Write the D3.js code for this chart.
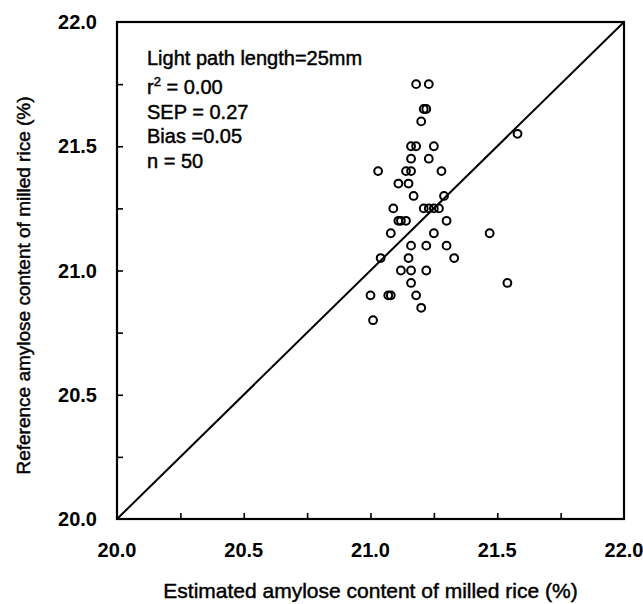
<!DOCTYPE html>
<html>
<head>
<meta charset="utf-8">
<script src="https://cdn.jsdelivr.net/npm/d3@7"></script>
<style>
    body { margin: 0; background: #fff; }
    svg text { font-family: "Liberation Sans", Arial, Helvetica, sans-serif; fill: #000; }
    /* the scan makes regular text look a little heavier */
    svg text.heavy { stroke: #000; stroke-width: 0.45px; }
</style>
</head>
<body>
<svg id="chart"></svg>
<script>
// estimated vs reference amylose (%)
const estimated = [
    21.18, 21.23, 21.21, 21.22, 21.20, 21.58, 21.16, 21.18, 21.25, 21.16,
    21.23, 21.03, 21.14, 21.16, 21.28, 21.11, 21.15, 21.17, 21.29, 21.09,
    21.21, 21.23, 21.25, 21.27, 21.11, 21.12, 21.14, 21.30, 21.08, 21.25,
    21.47, 21.16, 21.22, 21.30, 21.04, 21.15, 21.33, 21.12, 21.16, 21.22,
    21.16, 21.54, 21.00, 21.07, 21.08, 21.18, 21.20, 21.01
];
const reference = [
    21.75, 21.75, 21.65, 21.65, 21.60, 21.55, 21.50, 21.50, 21.50, 21.45,
    21.45, 21.40, 21.40, 21.40, 21.40, 21.35, 21.35, 21.30, 21.30, 21.25,
    21.25, 21.25, 21.25, 21.25, 21.20, 21.20, 21.20, 21.20, 21.15, 21.15,
    21.15, 21.10, 21.10, 21.10, 21.05, 21.05, 21.05, 21.00, 21.00, 21.00,
    20.95, 20.95, 20.90, 20.90, 20.90, 20.90, 20.85, 20.80
];
const domain = [20.0, 22.0];
const majorTicks = [20.0, 20.5, 21.0, 21.5, 22.0];
const minorTicks = [20.25, 20.5, 20.75, 21.0, 21.25, 21.5, 21.75];
const statLines = ["Light path length=25mm", "r|2| = 0.00", "SEP = 0.27", "Bias =0.05", "n = 50"];

const width = 643, height = 604;
const margin = { top: 22, right: 19, bottom: 85, left: 117 };

const svg = d3.select("#chart")
    .attr("width", width)
    .attr("height", height);

const x = d3.scaleLinear().domain(domain).range([margin.left, width - margin.right]);
const y = d3.scaleLinear().domain(domain).range([height - margin.bottom, margin.top]);

// inward ticks on bottom and left only
svg.append("g")
    .attr("transform", `translate(0,${y(20)})`)
    .call(d3.axisBottom(x).tickValues(minorTicks).tickSize(-6).tickFormat(""))
    .call(g => g.select(".domain").remove())
    .selectAll("line").attr("stroke", "#000").attr("stroke-width", 1.6);

svg.append("g")
    .attr("transform", `translate(${x(20)},0)`)
    .call(d3.axisLeft(y).tickValues(minorTicks).tickSize(-6).tickFormat(""))
    .call(g => g.select(".domain").remove())
    .selectAll("line").attr("stroke", "#000").attr("stroke-width", 1.6);

// tick labels
svg.append("g").selectAll("text")
    .data(majorTicks)
    .join("text")
    .attr("x", d => x(d))
    .attr("y", y(20) + 38)
    .attr("text-anchor", "middle")
    .attr("font-size", 20)
    .attr("font-weight", "bold")
    .text(d => d.toFixed(1));

svg.append("g").selectAll("text")
    .data(majorTicks)
    .join("text")
    .attr("x", x(20) - 20)
    .attr("y", d => y(d) + 7)
    .attr("text-anchor", "end")
    .attr("font-size", 20)
    .attr("font-weight", "bold")
    .text(d => d.toFixed(1));

// frame
svg.append("rect")
    .attr("x", x(20))
    .attr("y", y(22))
    .attr("width", x(22) - x(20))
    .attr("height", y(20) - y(22))
    .attr("fill", "none")
    .attr("stroke", "#000")
    .attr("stroke-width", 2.2);

// 1:1 line
svg.append("line")
    .attr("x1", x(20)).attr("y1", y(20))
    .attr("x2", x(22)).attr("y2", y(22))
    .attr("stroke", "#000")
    .attr("stroke-width", 2);

// points
svg.append("g").selectAll("circle")
    .data(estimated.map((v, i) => [v, reference[i]]))
    .join("circle")
    .attr("cx", d => x(d[0]))
    .attr("cy", d => y(d[1]))
    .attr("r", 3.9)
    .attr("fill", "none")
    .attr("stroke", "#000")
    .attr("stroke-width", 2);

// statistics block
const stats = svg.append("text")
    .attr("class", "heavy")
    .attr("x", 147)
    .attr("y", 65)
    .attr("font-size", 20);
statLines.forEach((line, i) => {
    const t = stats.append("tspan")
        .attr("x", 147)
        .attr("y", i === 0 ? 65 : 94 + (i - 1) * 24.6);
    const parts = line.split("|");
    t.text(parts[0]);
    if (parts.length > 1) {
        stats.append("tspan").attr("font-size", 13).attr("dy", -8).text(parts[1]);
        stats.append("tspan").attr("dy", 8).text(parts[2]);
    }
});

// axis titles
svg.append("text")
    .attr("class", "heavy")
    .attr("x", (x(20) + x(22)) / 2)
    .attr("y", 598)
    .attr("text-anchor", "middle")
    .attr("font-size", 21)
    .text("Estimated amylose content of milled rice (%)");

svg.append("text")
    .attr("class", "heavy")
    .attr("transform", `translate(30,${(y(20) + y(22)) / 2 + 15}) rotate(-90)`)
    .attr("text-anchor", "middle")
    .attr("font-size", 19)
    .text("Reference amylose content of milled rice (%)");
</script>
</body>
</html>
